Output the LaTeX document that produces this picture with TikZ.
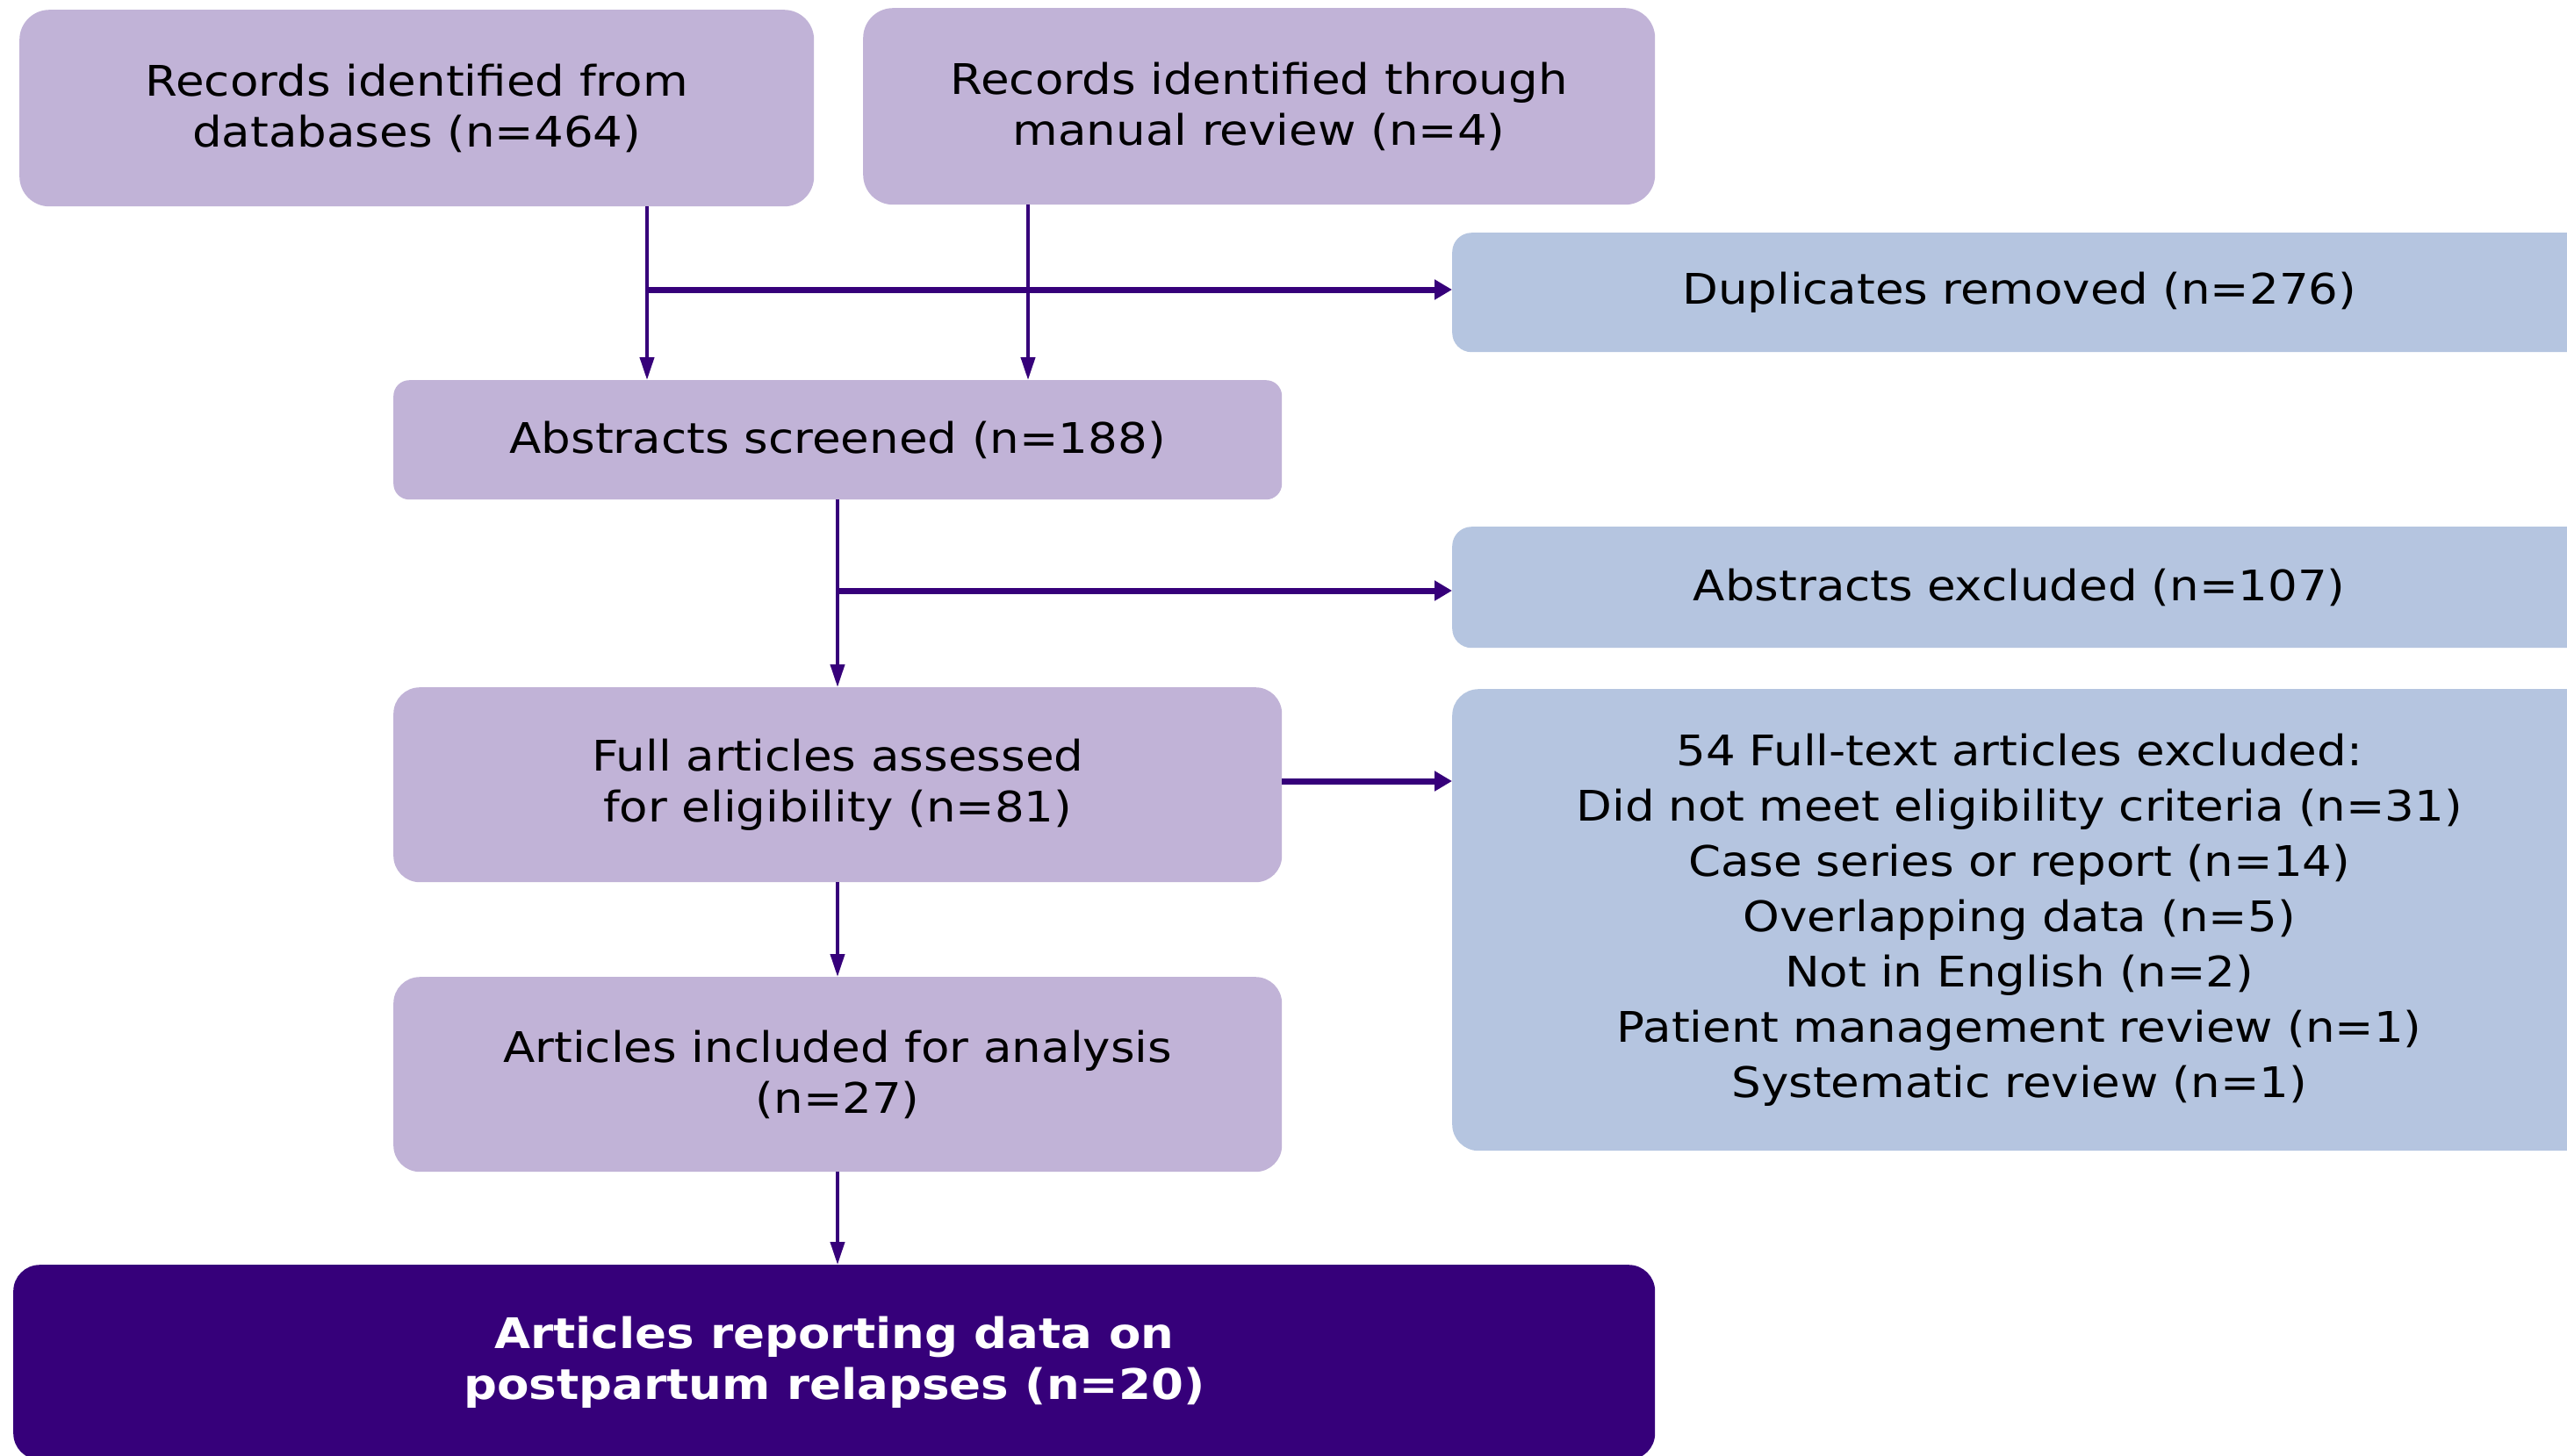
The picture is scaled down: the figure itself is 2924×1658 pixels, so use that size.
\documentclass[tikz,border=0pt]{standalone}
\usepackage{fontspec}
\setmainfont[FakeStretch=1.105]{DejaVu Sans}
\usetikzlibrary{arrows.meta}
\definecolor{lav}{HTML}{C1B3D7}
\definecolor{lblue}{HTML}{B5C5E0}
\definecolor{dpurp}{HTML}{36007A}
\tikzset{
  box/.style={fill=lav, draw=none, inner sep=0pt, anchor=north west, align=center,
    font=\fontsize{48}{58}\selectfont, text=black},
  bbox/.style={box, fill=lblue},
  fbox/.style={box, fill=dpurp, text=white, font=\fontsize{48}{58}\selectfont\bfseries},
  thinarr/.style={draw=dpurp, line width=4pt, -{Triangle[length=26pt,width=16pt]}},
  thickarr/.style={draw=dpurp, line width=7pt, -{Triangle[length=20pt,width=22pt]}},
}
\begin{document}
\begin{tikzpicture}[x=1pt,y=-1pt]
\useasboundingbox (0,0) rectangle (2924,1658);
\fill[white] (0,0) rectangle (2924,1658);
\node[box, rounded corners=34pt, minimum width=905pt, minimum height=224pt] (rdb) at (22,11)
  {Records identified from\\databases (n=464)};
\node[box, rounded corners=34pt, minimum width=902pt, minimum height=224pt] (rman) at (983,9)
  {Records identified through\\manual review (n=4)};
\node[bbox, rounded corners=22pt, minimum width=1320pt, minimum height=136pt, text width=1270pt] (dup) at (1654,265)
  {\hspace*{-28pt}Duplicates removed (n=276)};
\node[box, rounded corners=18pt, minimum width=1012pt, minimum height=136pt] (abs) at (448,433)
  {Abstracts screened (n=188)};
\node[bbox, rounded corners=22pt, minimum width=1320pt, minimum height=138pt, text width=1270pt] (absx) at (1654,600)
  {\hspace*{-28pt}Abstracts excluded (n=107)};
\node[box, rounded corners=30pt, minimum width=1012pt, minimum height=222pt] (full) at (448,783)
  {Full articles assessed\\for eligibility (n=81)};
\node[bbox, rounded corners=30pt, minimum width=1320pt, minimum height=526pt, text width=1270pt,
  font=\fontsize{48}{63}\selectfont] (ftx) at (1654,785)
  {\hspace*{-28pt}54 Full-text articles excluded:\\
   \hspace*{-28pt}Did not meet eligibility criteria (n=31)\\
   \hspace*{-28pt}Case series or report (n=14)\\
   \hspace*{-28pt}Overlapping data (n=5)\\
   \hspace*{-28pt}Not in English (n=2)\\
   \hspace*{-28pt}Patient management review (n=1)\\
   \hspace*{-28pt}Systematic review (n=1)};
\node[box, rounded corners=30pt, minimum width=1012pt, minimum height=222pt] (inc) at (448,1113)
  {Articles included for analysis\\(n=27)};
\node[fbox, rounded corners=30pt, minimum width=1870pt, minimum height=222pt] (fin) at (15,1441)
  {Articles reporting data on\\postpartum relapses (n=20)};
% junctions
\coordinate (j1) at (737,330);
\coordinate (j2) at (1171,330);
\coordinate (j3) at (954,673);
% arrows
\draw[thinarr] (rdb.south -| j1) -- (abs.north -| j1);
\draw[thinarr] (rman.south -| j2) -- (abs.north -| j2);
\draw[thickarr] (j1) -- (dup.west |- j1);
\draw[thinarr] (abs.south -| j3) -- (full.north -| j3);
\draw[thickarr] (j3) -- (absx.west |- j3);
\draw[thickarr] (full.east |- 0,890) -- (ftx.west |- 0,890);
\draw[thinarr] (full.south -| j3) -- (inc.north -| j3);
\draw[thinarr] (inc.south -| j3) -- (fin.north -| j3);
\end{tikzpicture}
\end{document}
